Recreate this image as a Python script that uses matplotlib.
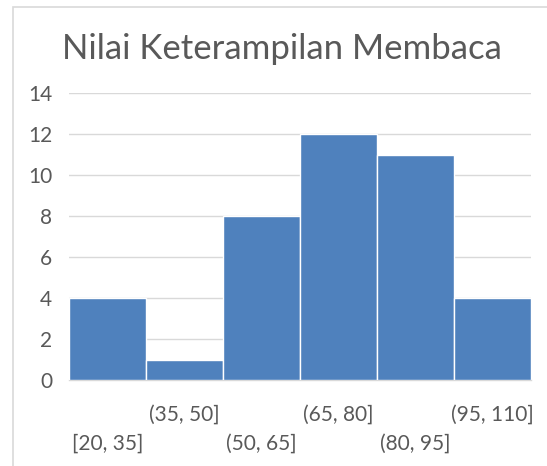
import matplotlib
matplotlib.use("Agg")
import matplotlib.pyplot as plt
from matplotlib.patches import Rectangle

categories = ["[20, 35]", "(35, 50]", "(50, 65]", "(65, 80]", "(80, 95]", "(95, 110]"]
counts = [4, 1, 8, 12, 11, 4]
title = "Nilai Keterampilan Membaca"

plt.rcParams['font.family'] = ['Lato', 'DejaVu Sans']
fig = plt.figure(figsize=(5.47, 4.66), dpi=100)
fig.patches.append(Rectangle((13/547, -0.05), 1.2, 1 - 7/466 + 0.05, transform=fig.transFigure,
                             fill=False, edgecolor="#D9D9D9", linewidth=1.2))
ax = fig.add_axes([69/547, 1 - 380/466, 462/547, 287/466])

x = list(range(len(categories)))
ax.bar(x, counts, width=1.0, color="#4F81BD", edgecolor="white", linewidth=1.0, zorder=3)
ax.set_xlim(-0.5, len(categories) - 0.5)
ax.set_ylim(0, 14)
ax.set_yticks(range(0, 15, 2))
ax.grid(axis="y", color="#D9D9D9", linewidth=1.0, zorder=0)
for s in ["top", "right", "left"]:
    ax.spines[s].set_visible(False)
ax.spines["bottom"].set_color("#D9D9D9")
ax.spines["bottom"].set_linewidth(1.0)
ax.tick_params(axis="y", length=0, labelsize=15, labelcolor="#595959", pad=12)
ax.set_xticks(x)
ax.set_xticklabels(categories)
ax.tick_params(axis="x", length=0, labelsize=15, labelcolor="#595959")
for i, t in enumerate(ax.xaxis.get_major_ticks()):
    t.set_pad(18 if i % 2 == 1 else 39)

fig.text(282/547, 1 - 49/466, title, ha="center", va="center", fontsize=25, color="#595959")
fig.savefig("out.png", dpi=100)
